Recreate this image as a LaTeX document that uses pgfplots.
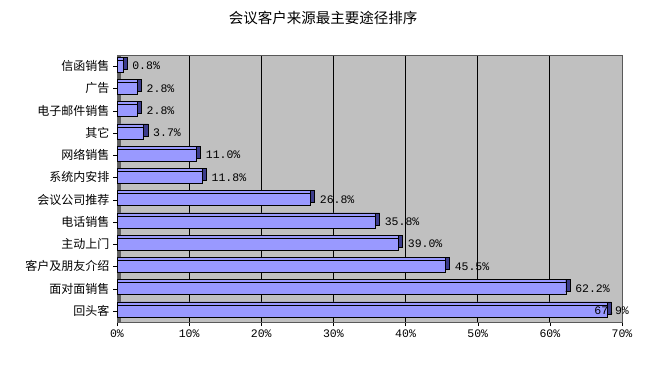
\documentclass[border=0pt]{standalone}
\usepackage{pgfplots}
\usepackage{pgfplotstable}
\pgfplotsset{compat=1.18}
\usepackage{fontspec}
\setmainfont{Noto Sans CJK SC}
\newfontfamily\monofont{Liberation Mono}
\definecolor{barfill}{HTML}{9999FF}
\definecolor{barside}{HTML}{3C3C8C}
\definecolor{wall}{HTML}{C0C0C0}
\pgfplotstableread{
y v
0 67.9
1 62.2
2 45.5
3 39.0
4 35.8
5 26.8
6 11.8
7 11.0
8 3.7
9 2.8
10 2.8
11 0.8
}\datatable
\pgfplotstableread{
y v
1 62.2
2 45.5
3 39.0
4 35.8
5 26.8
6 11.8
7 11.0
8 3.7
9 2.8
10 2.8
11 0.8
}\resttable
\pgfplotstableread{
y v
0 67.9
}\toptable
\begin{document}
\begin{tikzpicture}[x=1pt,y=1pt]
\path[use as bounding box] (0,0) rectangle (646,373);
\node[font=\fontsize{14.5}{16}\selectfont] at (323,355) {会议客户来源最主要途径排序};
\begin{axis}[at={(117pt,51pt)}, anchor=south west, scale only axis,
  width=505pt, height=267pt,
  xbar, xmin=0, xmax=70, ymin=-0.5, ymax=11.5,
  bar width=12pt,
  axis background/.style={fill=wall},
  xtick={0,10,...,70},
  xticklabel={\monofont\pgfmathprintnumber[assume math mode=true]{\tick}\%},
  xticklabel style={font=\fontsize{11.5}{13}\selectfont},
  ytick={0,...,11},
  yticklabels={回头客,面对面销售,客户及朋友介绍,主动上门,电话销售,会议公司推荐,系统内安排,网络销售,其它,电子邮件销售,广告,信函销售},
  yticklabel style={font=\fontsize{12}{14}\selectfont},
  xmajorgrids, grid style={black, line width=0.8pt},
  axis line style={gray!70!black},
  tick style={black},
  major tick length=4pt,
  tick align=outside,
  xtick pos=bottom, ytick pos=left,
  clip=false,
]
\fill[gray!75!black] (rel axis cs:0,0) rectangle ([xshift=4pt]rel axis cs:0,1);
\addplot[fill=barside, draw=black, bar shift=3pt] table[x expr=\thisrow{v}+0.6, y=y] {\datatable};
\addplot[fill=barfill, draw=black, bar shift=3pt] table[x=v, y=y] {\datatable};
\addplot[fill=barfill, draw=black, bar shift=0pt,
  nodes near coords={\monofont\pgfmathprintnumber[fixed,fixed zerofill,precision=1,assume math mode=true]{\pgfplotspointmeta}\%},
  nodes near coords style={font=\fontsize{11.5}{13}\selectfont, black, xshift=6pt, anchor=west}]
  table[x=v, y=y] {\resttable};
\addplot[fill=barfill, draw=black, bar shift=0pt,
  nodes near coords={\monofont\pgfmathprintnumber[fixed,fixed zerofill,precision=1,assume math mode=true]{\pgfplotspointmeta}\%},
  nodes near coords style={font=\fontsize{11.5}{13}\selectfont, black, xshift=-16pt, anchor=west}]
  table[x=v, y=y] {\toptable};
\end{axis}
\end{tikzpicture}
\end{document}
